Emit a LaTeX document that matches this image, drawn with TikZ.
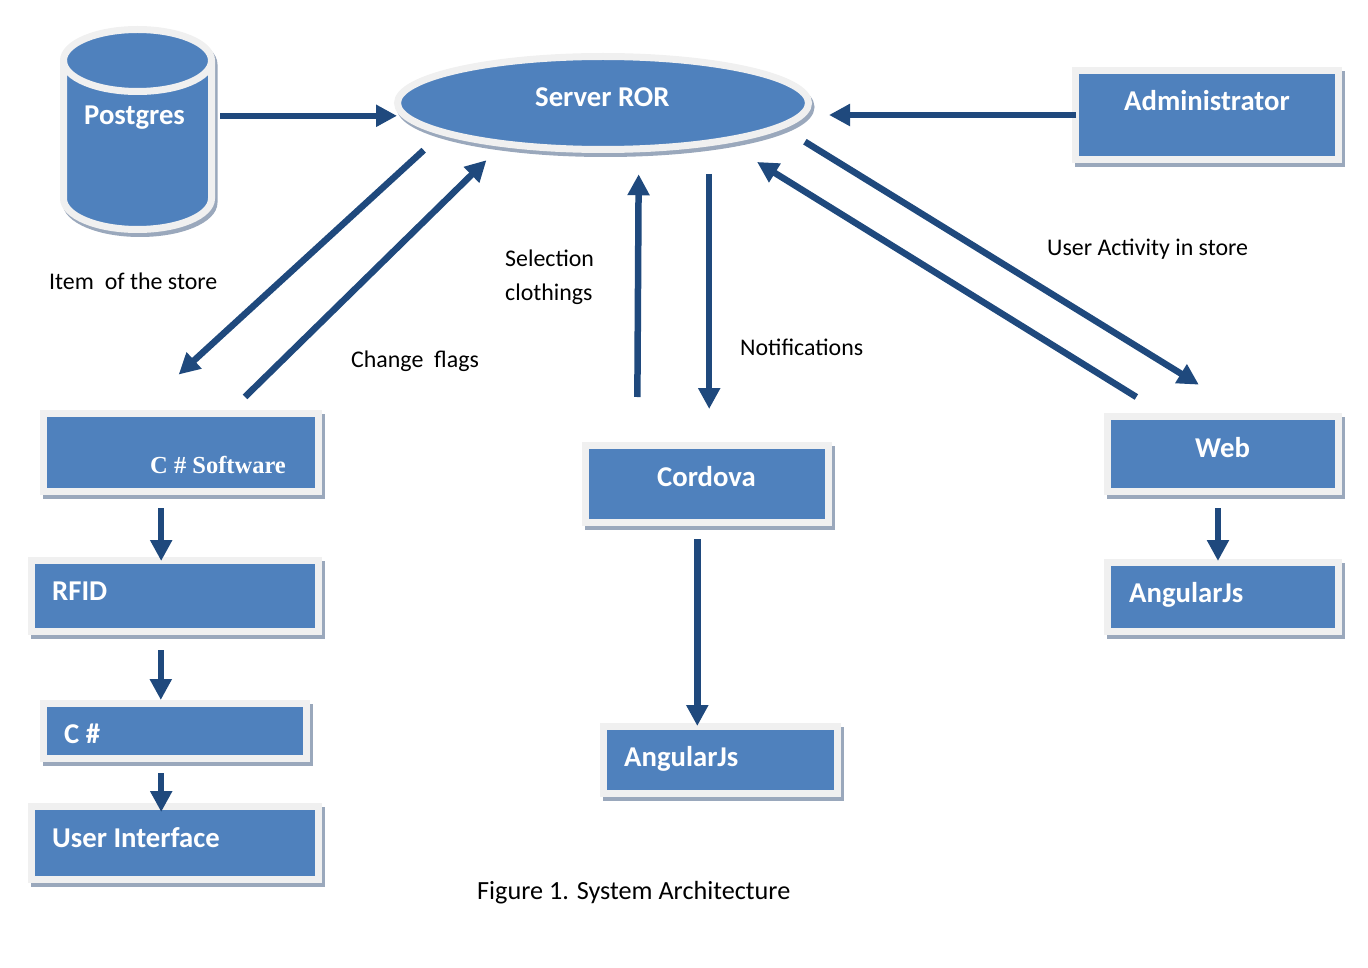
\documentclass[tikz,border=0pt]{standalone}
\usepackage{fontspec}
\setmainfont{Carlito}
\newfontfamily\softfont{Liberation Serif}
\usetikzlibrary{
  shapes.geometric,
  shadows,
  arrows.meta,
}
\definecolor{boxblue}{HTML}{4F81BD}
\definecolor{rimgray}{HTML}{F0F0F0}
\definecolor{shadegray}{HTML}{9AA8BC}
\definecolor{flowblue}{HTML}{1F497D}
\tikzset{
  x=1pt,
  y=-1pt,
  rim/.style={
    draw=rimgray,
    line width=7pt,
  },
  solid3d/.style={
    rim,
    fill=boxblue,
    inner sep=0pt,
    copy shadow={
      shadow xshift=2.5pt,
      shadow yshift=-4pt,
      draw=shadegray,
      fill=shadegray,
    },
  },
  box/.style={
    solid3d,
    rectangle,
  },
  boxtext/.style={
    anchor=base west,
    inner sep=0pt,
    text=white,
    font=\fontsize{28.7}{32}\selectfont\bfseries,
  },
  note/.style={
    anchor=base west,
    inner sep=0pt,
    text=black,
    font=\fontsize{23.9}{34}\selectfont,
  },
  flow/.style={
    draw=flowblue,
    line width=6.5pt,
    -{Triangle[length=21pt,width=21pt]},
  },
}
\begin{document}
\begin{tikzpicture}
  \useasboundingbox (0,0) rectangle (1368,968);

  % shapes
  \node [solid3d, ellipse, minimum width=411pt, minimum height=93pt] (server) at (603,103) {};
  \node [box, minimum width=263pt, minimum height=89pt] (admin) at (1207,115) {};
  \node [box, minimum width=275pt, minimum height=78pt] (software) at (181,452.5) {};
  \node [box, minimum width=287pt, minimum height=71pt] (rfid) at (175,596) {};
  \node [box, minimum width=263pt, minimum height=55pt] (csharp) at (175,731) {};
  \node [box, minimum width=287pt, minimum height=73pt] (ui) at (175,843) {};
  \node [box, minimum width=243pt, minimum height=77pt] (cordova) at (707,484) {};
  \node [box, minimum width=234pt, minimum height=67pt] (angularmid) at (720.5,760) {};
  \node [box, minimum width=231pt, minimum height=75pt] (web) at (1223,454) {};
  \node [box, minimum width=231pt, minimum height=69pt] (angularright) at (1223,597) {};

  % the database
  \path [draw=shadegray, line width=7pt, fill=shadegray] (66,64.5) arc [start angle=180, end angle=0, x radius=74pt, y radius=31pt]
    -- (214,202.5) arc [start angle=0, end angle=-180, x radius=74pt, y radius=31pt] -- cycle;
  \path [rim, fill=boxblue] (63.5,60.5) arc [start angle=180, end angle=0, x radius=74pt, y radius=31pt]
    -- (211.5,198.5) arc [start angle=0, end angle=-180, x radius=74pt, y radius=31pt] -- cycle;
  \draw [rim] (63.5,60.5) arc [start angle=180, end angle=360, x radius=74pt, y radius=31pt];
  \node [inner sep=0pt, minimum width=155pt, minimum height=207pt] (postgres) at (137.5,129.5) {};

  % names in the shapes
  \node [boxtext] (postgrestext) at (84,125) {Postgres};
  \node [boxtext] (servertext) at (535,107) {Server ROR};
  \node [boxtext] (admintext) at (1124,111) {Administrator};
  \node [boxtext, font=\fontsize{24.5}{28}\selectfont\softfont\bfseries] (softwaretext) at (150,473) {C \# Software};
  \node [boxtext] (rfidtext) at (52,600) {RFID};
  \node [boxtext] (csharptext) at (64,743) {C \#};
  \node [boxtext] (uitext) at (52,847) {User Interface};
  \node [boxtext] (cordovatext) at (657,486) {Cordova};
  \node [boxtext] (angularmidtext) at (624,766) {AngularJs};
  \node [boxtext] (webtext) at (1195,457) {Web};
  \node [boxtext] (angularrighttext) at (1129,602) {AngularJs};

  % notes
  \node [note] (itemnote) at (49,290) {Item\ \ of the store};
  \node [note] (selectionnote) at (505,267) {Selection};
  \node [note] (clothingsnote) at (505,301) {clothings};
  \node [note] (flagsnote) at (351,367) {Change\ \ flags};
  \node [note] (notificationsnote) at (740,355) {Notifications};
  \node [note] (activitynote) at (1047,256) {User Activity in store};
  \node [note, font=\fontsize{26.2}{30}\selectfont] (caption) at (477,899) {Figure 1. System Architecture};

  % connectors
  \draw [flow, shorten <=5pt, shorten >=-3pt] (postgres.10.6) -- (postgres.10.6 -| server.west);
  \draw [flow, shorten <=-4pt, shorten >=17pt] (admin.west) -- (admin.west -| server.east);
  \draw [flow, shorten <=23.2pt, shorten >=52.5pt] (server.191.7) -- (software.134.2);
  \draw [flow, shorten <=18.7pt, shorten >=19.5pt] (software.40) -- (server.203.6);
  \draw [flow, shorten <=45pt, shorten >=22pt] (cordova.149.2) -- (server.306.3);
  \draw [flow, shorten <=21pt, shorten >=33pt] (cordova.87.3 |- server.south) -- (cordova.87.3);
  \draw [flow, shorten <=25.5pt, shorten >=54pt] (server.352.6) -- (web.62.1);
  \draw [flow, shorten <=30.4pt, shorten >=35.5pt] (web.146.5) -- (server.342);
  \draw [flow, shorten <=13pt, shorten >=-4pt] (software.245.35) -- (software.245.35 |- rfid.north);
  \draw [flow, shorten <=15pt] (rfid.250.25) -- (rfid.250.25 |- csharp.north);
  \draw [flow, shorten <=11pt, shorten >=-9pt] (csharp.246.5) -- (csharp.246.5 |- ui.north);
  \draw [flow, shorten <=13pt, shorten >=-3pt] (cordova.257.9) -- (cordova.257.9 |- angularmid.north);
  \draw [flow, shorten <=13pt, shorten >=-2pt] (web.263) -- (web.263 |- angularright.north);
\end{tikzpicture}
\end{document}
